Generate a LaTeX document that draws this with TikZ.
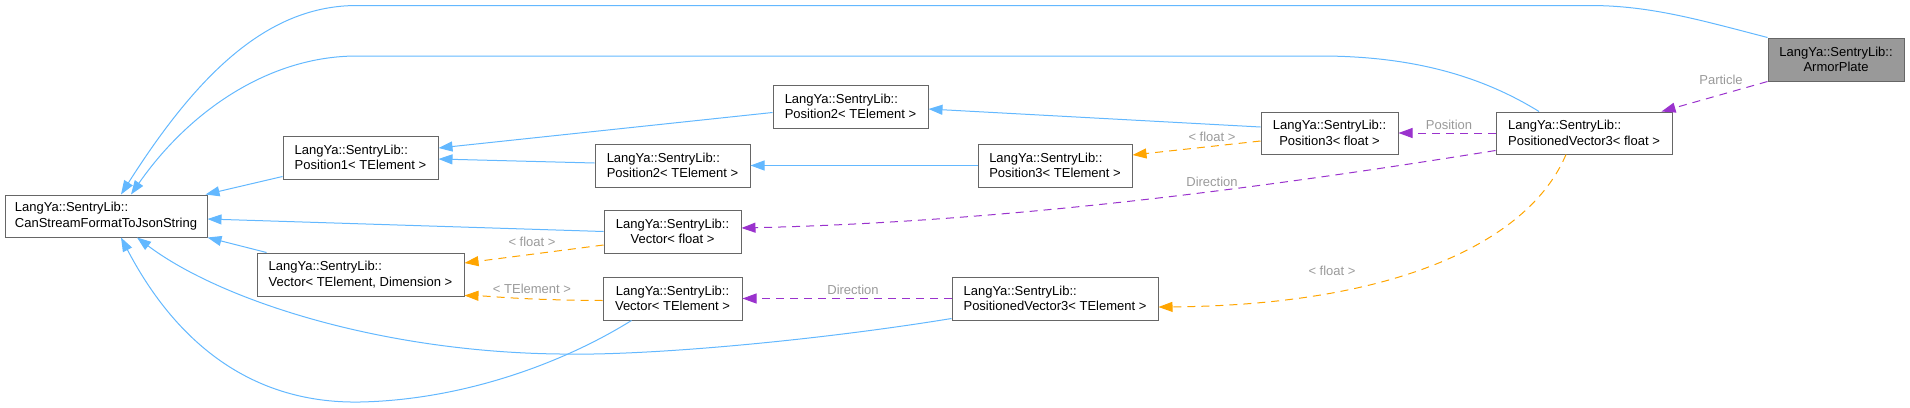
\documentclass[tikz,border=0pt]{standalone}
\usepackage{fontspec}
\setmainfont{Liberation Sans}
\usetikzlibrary{arrows.meta}

\definecolor{boxgray}{HTML}{666666}
\definecolor{armorgray}{HTML}{999999}
\definecolor{inhblue}{HTML}{63B8FF}
\definecolor{tplorange}{HTML}{FFA500}
\definecolor{usepurple}{HTML}{9A32CD}
\definecolor{lblgray}{HTML}{9A9A9A}

\begin{document}
\begin{tikzpicture}[x=1pt,y=-1pt,line width=1pt,>={Triangle[length=14pt,width=10pt]},
  cls/.style={draw=boxgray,fill=white,inner sep=0pt,minimum height=43pt,
    font=\fontsize{13}{15.5}\selectfont,align=left},
  inh/.style={->,draw=inhblue},
  tpl/.style={->,draw=tplorange,dash pattern=on 8pt off 6pt},
  use/.style={->,draw=usepurple,dash pattern=on 8pt off 6pt},
  lbl/.style={text=lblgray,inner sep=0pt,font=\fontsize{13}{15.5}\selectfont}]
  \useasboundingbox (0,0) rectangle (1910,407);

  % classes
  \node[cls,fill=armorgray,align=center,minimum width=136pt] (armor) at (1836,59.5)
      {LangYa::SentryLib::\\ArmorPlate};
  \node[cls,minimum width=202pt,minimum height=42pt] (can) at (106,216)
      {LangYa::SentryLib::\\CanStreamFormatToJsonString};
  \node[cls,minimum width=155pt] (pos1) at (360.5,157.5)
      {LangYa::SentryLib::\\Position1< TElement >};
  \node[cls,minimum width=155pt] (p2u) at (850.5,106.5)
      {LangYa::SentryLib::\\Position2< TElement >};
  \node[cls,minimum width=155pt] (p2l) at (672.5,165.5)
      {LangYa::SentryLib::\\Position2< TElement >};
  \node[cls,minimum width=154pt] (p3t) at (1055,165.5)
      {LangYa::SentryLib::\\Position3< TElement >};
  \node[cls,align=center,minimum width=137pt,minimum height=42pt] (p3f) at (1329.5,133)
      {LangYa::SentryLib::\\Position3< float >};
  \node[cls,minimum width=176pt,minimum height=42pt] (pv3f) at (1584,133)
      {LangYa::SentryLib::\\PositionedVector3< float >};
  \node[cls,align=center,minimum width=137pt] (vecf) at (672.5,231.5)
      {LangYa::SentryLib::\\Vector< float >};
  \node[cls,minimum width=207pt] (vectd) at (360.5,274.5)
      {LangYa::SentryLib::\\Vector< TElement, Dimension >};
  \node[cls,align=center,minimum width=139pt] (vect) at (672.5,298.5)
      {LangYa::SentryLib::\\Vector< TElement >};
  \node[cls,minimum width=206pt] (pv3t) at (1055,298.5)
      {LangYa::SentryLib::\\PositionedVector3< TElement >};

  % inheritance
  \draw[inh] (armor.north west) .. controls (1700,20) and (1650,5.5) .. (1590,5.5)
      -- (357,5.5) .. controls (270,5.5) and (200,70) .. ([xshift=15pt]can.north);
  \draw[inh] ([xshift=-45pt]pv3f.north) .. controls (1480,75) and (1410,56) .. (1320,56)
      -- (357,56) .. controls (270,56) and (190,110) .. ([xshift=25pt]can.north);
  \draw[inh] ([yshift=-6pt]p2u.west) -- ([yshift=9.5pt]pos1.east);
  \draw[inh] ([yshift=2.5pt]p2l.west) -- ([yshift=-1.5pt]pos1.east);
  \draw[inh] ([yshift=3pt]pos1.south west) -- ([xshift=-2pt]can.north east);
  \draw[inh] ([yshift=6pt]p3f.west) -- ([yshift=-2.5pt]p2u.east);
  \draw[inh] (p3t.west) -- (p2l.east);
  \draw[inh] (vecf.west) -- ([yshift=-3pt]can.east);
  \draw[inh] ([xshift=10pt]vectd.north west) -- (can.south east);
  \draw[inh] ([yshift=2pt]pv3t.south west) .. controls (820,340) and (650,356) .. (560,354)
      .. controls (380,352) and (220,300) .. ([xshift=31pt]can.south);
  \draw[inh] ([xshift=29pt]vect.south west) .. controls (560,365) and (460,400) .. (360,402)
      .. controls (245,404) and (172,335) .. ([xshift=15pt]can.south);

  % templates
  \draw[tpl] ([yshift=-13.5pt]vecf.west) -- ([yshift=11.5pt]vectd.east);
  \draw[tpl] ([yshift=-2pt]vect.west) .. controls (520,300) and (490,296)
      .. ([yshift=1pt]vectd.south east);
  \draw[tpl] ([yshift=-8pt]p3f.west) -- ([yshift=10.5pt]p3t.east);
  \draw[tpl] ([xshift=-18pt]pv3f.south) .. controls (1530,240) and (1400,305)
      .. ([yshift=-8.5pt]pv3t.east);

  % members
  \draw[use] (armor.south west) -- ([xshift=-11pt]pv3f.north east);
  \draw[use] (pv3f.west) -- (p3f.east);
  \draw[use] ([yshift=4pt]pv3f.south west) .. controls (1250,190) and (1000,222)
      .. ([yshift=3.5pt]vecf.east);
  \draw[use] (pv3t.west) -- (vect.east);

  \node[lbl] (lblParticle) at (1721,80) {Particle};
  \node[lbl] (lblPosition) at (1449,125) {Position};
  \node[lbl] (lblFloatA) at (1212,137) {< float >};
  \node[lbl] (lblDirA) at (1212,182) {Direction};
  \node[lbl] (lblFloatB) at (1332,271) {< float >};
  \node[lbl] (lblFloatC) at (532,242) {< float >};
  \node[lbl] (lblTElem) at (532,289) {< TElement >};
  \node[lbl] (lblDirB) at (853,290) {Direction};
\end{tikzpicture}
\end{document}
